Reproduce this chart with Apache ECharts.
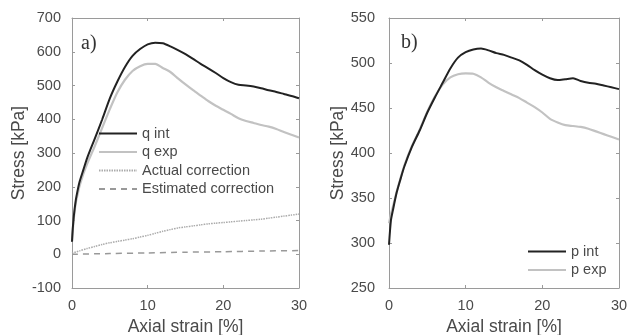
<!DOCTYPE html>
<html>
<head>
<meta charset="utf-8">
<script src="https://cdn.jsdelivr.net/npm/echarts@6/dist/echarts.min.js"></script>
<style>html,body{margin:0;padding:0;background:#fff}#c{width:628px;height:335px}</style>
</head>
<body>
<div id="c"></div>
<script>
// ---- Data ----
const xTicks = [0, 10, 20, 30];
const yTicksA = [-100, 0, 100, 200, 300, 400, 500, 600, 700];
const yTicksB = [250, 300, 350, 400, 450, 500, 550];

const qStrain = [0, 0.1, 0.25, 0.5, 0.75, 1, 1.5, 2, 3, 4, 5, 6, 7, 8, 9, 10, 11, 12, 13, 14, 15, 16, 17, 18, 19, 20, 21, 22, 23, 24, 25, 26, 27, 28, 29, 30];
const qInt = [37, 75, 115, 160, 190, 215, 250, 285, 342, 400, 462, 512, 555, 588, 608, 622, 627, 625, 616, 605, 593, 579, 564, 551, 537, 522, 510, 502, 500, 497, 492, 486, 481, 475, 469, 462];
const qExp = [37, 70, 108, 152, 178, 202, 238, 268, 320, 375, 430, 480, 517, 543, 557, 564, 564, 552, 540, 521, 503, 486, 470, 454, 440, 428, 416, 403, 395, 389, 383, 378, 371, 362, 354, 346];

const corrStrain = [0, 1, 2, 3, 4, 5, 6, 7, 8, 9, 10, 11, 12, 13, 14, 15, 16, 17, 18, 19, 20, 21, 22, 23, 24, 25, 26, 27, 28, 29, 30];
const actualCorr = [3, 10, 17, 23, 29, 34, 38, 42, 46, 51, 56, 62, 68, 73, 78, 81, 84, 87, 90, 92, 94, 96, 98, 100, 102, 104, 107, 110, 113, 116, 119];
const estStrain = [0, 5, 10, 15, 20, 25, 30];
const estCorr = [0, 2, 4, 6, 7.5, 9.5, 11];

const pStrain = [0, 0.25, 0.5, 1, 1.5, 2, 3, 4, 5, 6, 7, 8, 9, 10, 11, 12, 13, 14, 15, 16, 17, 18, 19, 20, 21, 22, 23, 24, 25, 26, 27, 28, 29, 30];
const pInt = [298, 325, 336, 356, 371, 385, 407, 425, 445, 462, 478, 494, 506, 512, 515, 516, 514, 511, 509, 506, 503, 498, 492, 487, 483, 481, 482, 483, 480, 478, 477, 475, 473, 471];
const pExp = [322, 332, 340, 357, 372, 386, 408, 426, 446, 463, 476, 484, 487.5, 488.5, 488, 484, 478, 473, 469, 465, 461, 456, 451, 445, 438, 434, 431, 430, 429, 427, 424, 421, 418, 415];

const zip = (xs, ys) => xs.map((x, i) => [x, ys[i]]);

const FONT = 'Liberation Sans, Arial, sans-serif';
const AX = '#9a9a9a';
const TXT = '#4a4a4a';

function xAx(grid, pos, show) {
  return {
    type: 'value', gridIndex: grid, position: pos,
    min: xTicks[0], max: xTicks[xTicks.length - 1], interval: xTicks[1] - xTicks[0],
    axisLine: { show: true, onZero: false, lineStyle: { color: AX, width: 1 } },
    axisTick: { show: true, inside: true, length: 3, lineStyle: { color: AX } },
    axisLabel: { show: show, color: TXT, fontSize: 14.5, fontFamily: FONT, margin: 10 },
    splitLine: { show: false },
    name: show ? 'Axial strain [%]' : '', nameLocation: 'middle', nameGap: 29,
    nameTextStyle: { color: TXT, fontSize: 17.5, fontFamily: FONT }
  };
}
function yAx(grid, pos, show, ticks, gap, margin) {
  return {
    type: 'value', gridIndex: grid, position: pos,
    min: ticks[0], max: ticks[ticks.length - 1], interval: ticks[1] - ticks[0],
    axisLine: { show: true, onZero: false, lineStyle: { color: AX, width: 1 } },
    axisTick: { show: true, inside: true, length: 3, lineStyle: { color: AX } },
    axisLabel: { show: show, color: TXT, fontSize: 14.5, fontFamily: FONT, margin: margin },
    splitLine: { show: false },
    name: show ? 'Stress [kPa]' : '', nameLocation: 'middle', nameGap: gap,
    nameTextStyle: { color: TXT, fontSize: 17.5, fontFamily: FONT }
  };
}
function line(name, xi, yi, data, color, width, type) {
  return {
    name: name, type: 'line', xAxisIndex: xi, yAxisIndex: yi, data: data,
    showSymbol: false, symbol: 'none', smooth: 0.25,
    lineStyle: { color: color, width: width, type: type || 'solid' },
    itemStyle: { color: color }, z: 3
  };
}

const legendText = { color: TXT, fontSize: 14.5, fontFamily: FONT, lineHeight: 14 };

const chart = echarts.init(document.getElementById('c'), null, { renderer: 'canvas' });
chart.setOption({
  animation: false,
  backgroundColor: '#fff',
  grid: [
    { left: 72, top: 18, width: 227, height: 270, containLabel: false, outerBoundsMode: 'none' },
    { left: 389, top: 18, width: 230, height: 270, containLabel: false, outerBoundsMode: 'none' }
  ],
  xAxis: [xAx(0, 'bottom', true), xAx(0, 'top', false), xAx(1, 'bottom', true), xAx(1, 'top', false)],
  yAxis: [
    yAx(0, 'left', true, yTicksA, 42, 11), yAx(0, 'right', false, yTicksA, 0, 0),
    yAx(1, 'left', true, yTicksB, 34, 14), yAx(1, 'right', false, yTicksB, 0, 0)
  ],
  legend: [
    {
      data: ['q int', 'q exp', 'Actual correction', 'Estimated correction'],
      orient: 'vertical', left: 93, top: 121, itemWidth: 38, itemHeight: 14, itemGap: 3.5,
      itemStyle: { opacity: 0 },
      textStyle: legendText, selectedMode: false
    },
    {
      data: ['p int', 'p exp'],
      orient: 'vertical', left: 522, top: 239, itemWidth: 38, itemHeight: 14, itemGap: 3.5,
      itemStyle: { opacity: 0 },
      textStyle: legendText, selectedMode: false
    }
  ],
  graphic: [
    { type: 'text', left: 81, top: 34, style: { text: 'a)', font: '20px "Liberation Serif", "Times New Roman", serif', fill: '#333' } },
    { type: 'text', left: 401, top: 33, style: { text: 'b)', font: '20px "Liberation Serif", "Times New Roman", serif', fill: '#333' } }
  ],
  series: [
    line('Actual correction', 0, 0, zip(corrStrain, actualCorr), '#ababab', 1.5, [1.5, 1]),
    line('Estimated correction', 0, 0, zip(estStrain, estCorr), '#999999', 1.5, [6, 5]),
    line('q exp', 0, 0, zip(qStrain, qExp), '#c2c2c2', 2.2),
    line('q int', 0, 0, zip(qStrain, qInt), '#222222', 2),
    line('p exp', 2, 2, zip(pStrain, pExp), '#c2c2c2', 2.2),
    line('p int', 2, 2, zip(pStrain, pInt), '#222222', 2)
  ]
});
</script>
</body>
</html>
